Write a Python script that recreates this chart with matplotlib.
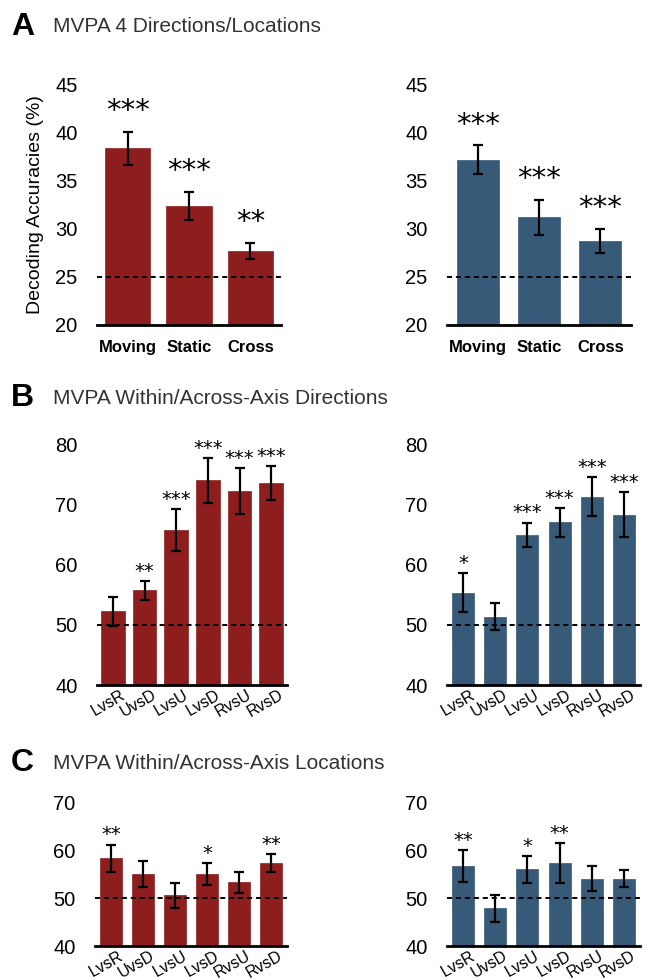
import matplotlib
matplotlib.use("Agg")
import matplotlib.pyplot as plt
import matplotlib.transforms as mtransforms

plt.rcParams['font.family'] = ['Liberation Sans', 'DejaVu Sans']

RED = '#8e1e1e'
BLUE = '#375a79'

# Panel A: 4 directions / locations
a_cats = ['Moving', 'Static', 'Cross']
a_left = [38.4, 32.4, 27.7]
a_left_err = [1.7, 1.5, 0.85]
a_left_sig = ['***', '***', '**']
a_right = [37.2, 31.2, 28.8]
a_right_err = [1.5, 1.8, 1.25]
a_right_sig = ['***', '***', '***']

# Panel B: within/across-axis directions
pair_cats = ['LvsR', 'UvsD', 'LvsU', 'LvsD', 'RvsU', 'RvsD']
b_left = [52.3, 55.8, 65.8, 74.1, 72.3, 73.6]
b_left_err = [2.4, 1.55, 3.5, 3.75, 3.8, 2.85]
b_left_sig = ['', '**', '***', '***', '***', '***']
b_right = [55.4, 51.4, 65.0, 67.1, 71.4, 68.4]
b_right_err = [3.2, 2.2, 2.05, 2.4, 3.25, 3.75]
b_right_sig = ['*', '', '***', '***', '***', '***']

# Panel C: within/across-axis locations
c_left = [58.3, 55.0, 50.6, 55.0, 53.3, 57.3]
c_left_err = [2.8, 2.7, 2.6, 2.3, 2.2, 1.8]
c_left_sig = ['**', '', '', '*', '', '**']
c_right = [56.7, 47.9, 56.0, 57.3, 54.0, 54.0]
c_right_err = [3.3, 2.8, 2.8, 4.2, 2.6, 1.75]
c_right_sig = ['**', '', '*', '**', '', '']

fig = plt.figure(figsize=(6.5, 9.8), dpi=100)


def bar_panel(rect, cats, vals, errs, sigs, color, ylim, yticks, chance,
              width, star_size, star_off, rotate):
    ax = fig.add_axes(rect)
    x = list(range(len(cats)))
    ax.bar(x, vals, width=width, color=color, edgecolor=color, linewidth=0.5, zorder=2)
    ax.errorbar(x, vals, yerr=errs, fmt='none', ecolor='black', elinewidth=1.6,
                capsize=3.5, capthick=1.6, zorder=3)
    ax.axhline(chance, color='black', lw=1.4, ls=(0, (2.6, 2.0)), zorder=4)
    for xi, v, e, s in zip(x, vals, errs, sigs):
        if s:
            ax.annotate(s, xy=(xi, v + e), xytext=(0, star_off), textcoords='offset points',
                        ha='center', va='center', fontsize=star_size, family='DejaVu Sans',
                        annotation_clip=False)
    ax.set_ylim(*ylim)
    ax.set_xlim(-0.5, len(cats) - 0.5)
    ax.set_yticks(yticks)
    ax.tick_params(axis='y', length=0, pad=14, labelsize=14.5)
    ax.tick_params(axis='x', length=0)
    for sp in ['top', 'right', 'left']:
        ax.spines[sp].set_visible(False)
    ax.spines['bottom'].set_linewidth(2)
    ax.set_xticks(x)
    if rotate:
        ax.set_xticklabels(cats, rotation=30, ha='right', va='top',
                           rotation_mode='anchor', fontsize=11.5)
        ax.tick_params(axis='x', pad=1.5)
        shift = mtransforms.ScaledTranslation(5 / 72, 0, fig.dpi_scale_trans)
        for lab in ax.get_xticklabels():
            lab.set_transform(lab.get_transform() + shift)
    else:
        ax.set_xticklabels(cats, fontsize=12, fontweight='bold')
        ax.tick_params(axis='x', pad=11)
    return ax


W, H = 650, 980


def rect(x0, x1, ytop, ybot):
    return [x0 / W, 1 - ybot / H, (x1 - x0) / W, (ybot - ytop) / H]


axA1 = bar_panel(rect(97, 281, 85, 325), a_cats, a_left, a_left_err, a_left_sig, RED,
                 (20, 45), [20, 25, 30, 35, 40, 45], 25, 0.74, 21, 15, False)
axA1.set_ylabel('Decoding Accuracies (%)', fontsize=14, labelpad=8)
bar_panel(rect(447, 631, 85, 325), a_cats, a_right, a_right_err, a_right_sig, BLUE,
          (20, 45), [20, 25, 30, 35, 40, 45], 25, 0.69, 21, 15, False)

bar_panel(rect(97, 287, 445, 685), pair_cats, b_left, b_left_err, b_left_sig, RED,
          (40, 80), [40, 50, 60, 70, 80], 50, 0.74, 14, 7, True)
bar_panel(rect(447, 640, 445, 685), pair_cats, b_right, b_right_err, b_right_sig, BLUE,
          (40, 80), [40, 50, 60, 70, 80], 50, 0.68, 14, 7, True)

bar_panel(rect(95, 287, 802, 946), pair_cats, c_left, c_left_err, c_left_sig, RED,
          (40, 70), [40, 50, 60, 70], 50, 0.70, 14, 7, True)
bar_panel(rect(447, 640, 802, 946), pair_cats, c_right, c_right_err, c_right_sig, BLUE,
          (40, 70), [40, 50, 60, 70], 50, 0.68, 14, 7, True)

# panel headings
for letter, title, y in [('A', 'MVPA 4 Directions/Locations', 27),
                         ('B', 'MVPA Within/Across-Axis Directions', 398),
                         ('C', 'MVPA Within/Across-Axis Locations', 763)]:
    fig.text(11 / W, 1 - y / H, letter, fontsize=23, fontweight='bold', va='center', ha='left')
    fig.text(53 / W, 1 - y / H, title, fontsize=15, color='#333333', va='center', ha='left')

fig.savefig('out.png', dpi=100)
